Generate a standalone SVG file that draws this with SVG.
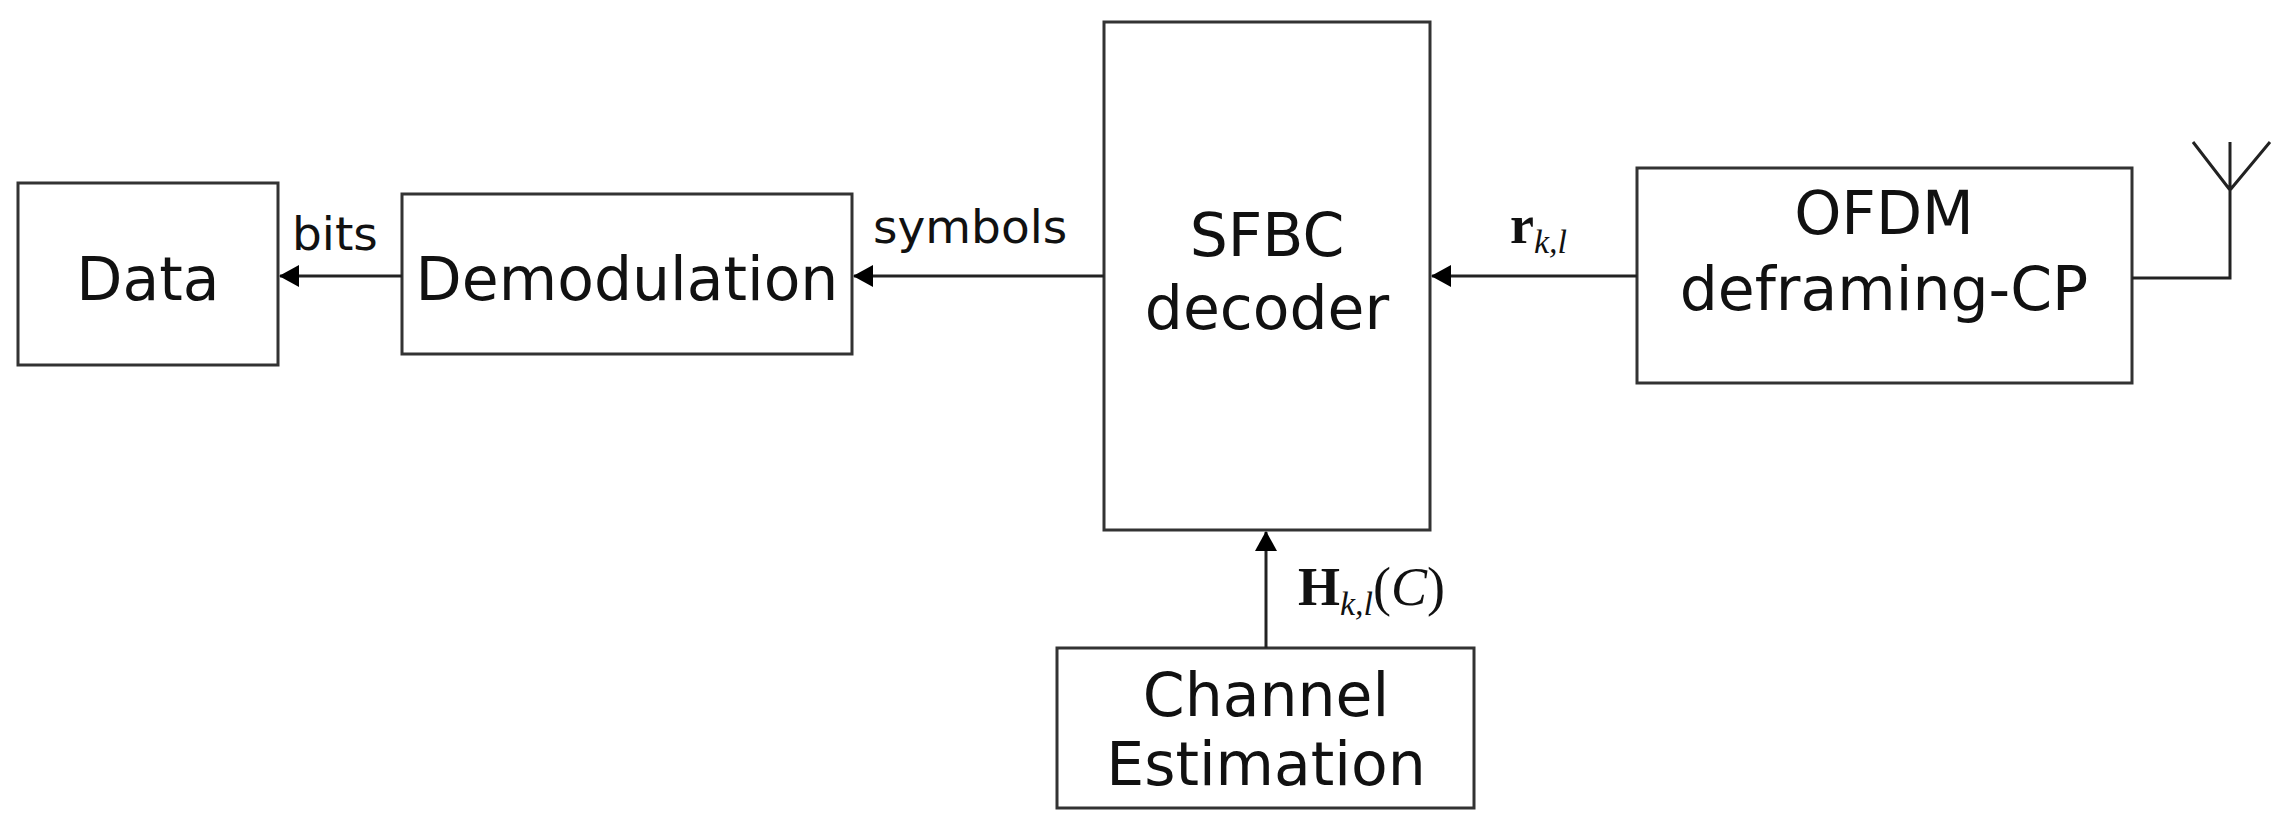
<svg xmlns="http://www.w3.org/2000/svg" width="2292" height="834" viewBox="0 0 2292 834">
<style>
.box{fill:#fff;stroke:#333;stroke-width:3}
.t{font-family:"DejaVu Sans",sans-serif;font-size:60px;fill:#111;text-anchor:middle}
.l{font-family:"DejaVu Sans",sans-serif;font-size:47px;fill:#111}
.m{font-family:"Liberation Serif",serif;font-size:54px;fill:#111}
.c{stroke:#222;stroke-width:3;fill:none}
</style>
<defs>
<marker id="b" markerWidth="20" markerHeight="22" refX="19" refY="11" orient="auto" markerUnits="userSpaceOnUse"><path d="M0,0L20,11L0,22z" fill="#000"/></marker></defs>
<g id="data"><rect class="box" x="18" y="183" width="260" height="182"/><text class="t" x="148" y="300">Data</text></g>
<g id="demod"><rect class="box" x="402" y="194" width="450" height="160"/><text class="t" x="627" y="300">Demodulation</text></g>
<g id="sfbc"><rect class="box" x="1104" y="22" width="326" height="508"/><text class="t" x="1267" y="256">SFBC</text><text class="t" x="1267" y="329">decoder</text></g>
<g id="ofdm"><rect class="box" x="1637" y="168" width="495" height="215"/><text class="t" x="1884" y="234">OFDM</text><text class="t" x="1884" y="310">deframing-CP</text></g>
<g id="chan"><rect class="box" x="1057" y="648" width="417" height="160" stroke="#888"/><text class="t" x="1266" y="716">Channel</text><text class="t" x="1266" y="785">Estimation</text></g>
<g id="antenna" class="c"><path d="M2132,278H2230V142M2193,142L2230,190L2270,142"/></g>
<g id="connectors" class="c">
<line x1="402" y1="276" x2="280" y2="276" marker-end="url(#b)"/>
<line x1="1104" y1="276" x2="854" y2="276" marker-end="url(#b)"/>
<line x1="1637" y1="276" x2="1432" y2="276" marker-end="url(#b)"/>
<line x1="1266" y1="648" x2="1266" y2="532" marker-end="url(#b)"/>
</g>
<text class="l" x="292" y="250">bits</text>
<text class="l" x="873" y="243">symbols</text>
<text class="m" x="1510" y="243" font-weight="bold">r<tspan font-size="34" font-style="italic" font-weight="normal" dy="10">k,l</tspan></text>
<text class="m" x="1298" y="605" font-weight="bold">H<tspan font-size="34" font-style="italic" font-weight="normal" dy="10">k,l</tspan><tspan font-weight="normal" dy="-10">(</tspan><tspan font-weight="normal" font-style="italic">C</tspan><tspan font-weight="normal">)</tspan></text>
</svg>
